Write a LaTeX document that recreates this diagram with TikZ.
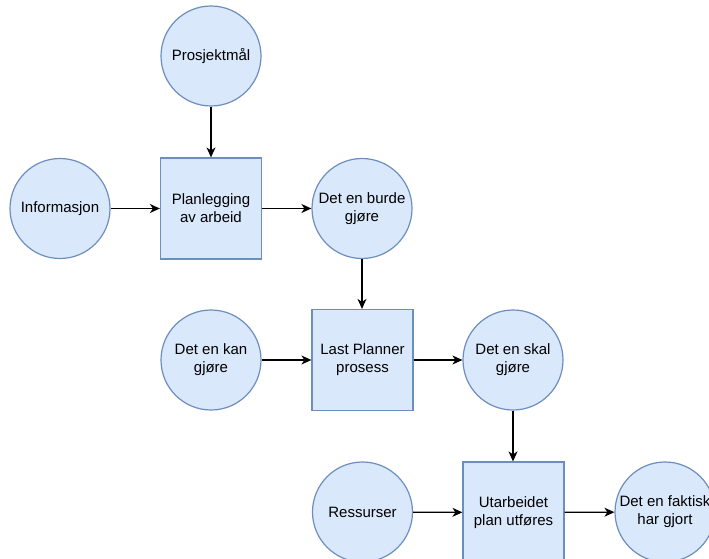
\documentclass[tikz,border=0pt]{standalone}
\usepackage{fontspec}
\setmainfont{Liberation Sans}
\usetikzlibrary{arrows.meta}
\definecolor{nodefill}{HTML}{DAE8FC}
\definecolor{nodeline}{HTML}{6C8EBF}
\tikzset{
  base/.style={draw=nodeline, fill=nodefill, line width=1.2pt, inner sep=0pt,
    align=center, font=\fontsize{15}{18}\selectfont},
  circ/.style={base, circle, minimum size=100pt},
  box/.style={base, rectangle, minimum width=101pt, minimum height=101pt},
  flow/.style={-{Stealth[length=10pt,width=9pt,inset=3pt]}, line width=1.3pt, black}
}
\begin{document}
\begin{tikzpicture}[x=1pt,y=-1pt]
\useasboundingbox (0,0) rectangle (709,559);
\clip (0,0) rectangle (709,559);

% first row: goals and information feed the planning
\node[circ] (pm)    at (211,56)    {Prosjektmål};
\node[circ] (info)  at (60,208.5)  {Informasjon};
\node[box]  (plan)  at (211,208.5) {Planlegging\\av arbeid};
\node[circ] (burde) at (362,208.5) {Det en burde\\gjøre};

% second row: Last Planner
\node[circ] (kan)   at (211,360)   {Det en kan\\gjøre};
\node[box]  (lps)   at (362.5,360) {Last Planner\\prosess};
\node[circ] (skal)  at (513,360)   {Det en skal\\gjøre};

% third row: execution
\node[circ] (ress)    at (362.5,512) {Ressurser};
\node[box]  (utf)     at (513.5,512.5) {Utarbeidet\\plan utføres};
\node[circ] (faktisk) at (665,512)   {Det en faktisk\\har gjort};

\draw[flow] (pm) -- (plan);
\draw[flow] (info) -- (plan);
\draw[flow] (plan) -- (burde);
\draw[flow] (burde.south) -- (burde.south |- lps.north);
\draw[flow] (kan) -- (lps);
\draw[flow] (lps) -- (skal);
\draw[flow] (skal.south) -- (skal.south |- utf.north);
\draw[flow] (ress) -- (utf);
\draw[flow] (utf) -- (faktisk);
\end{tikzpicture}
\end{document}
